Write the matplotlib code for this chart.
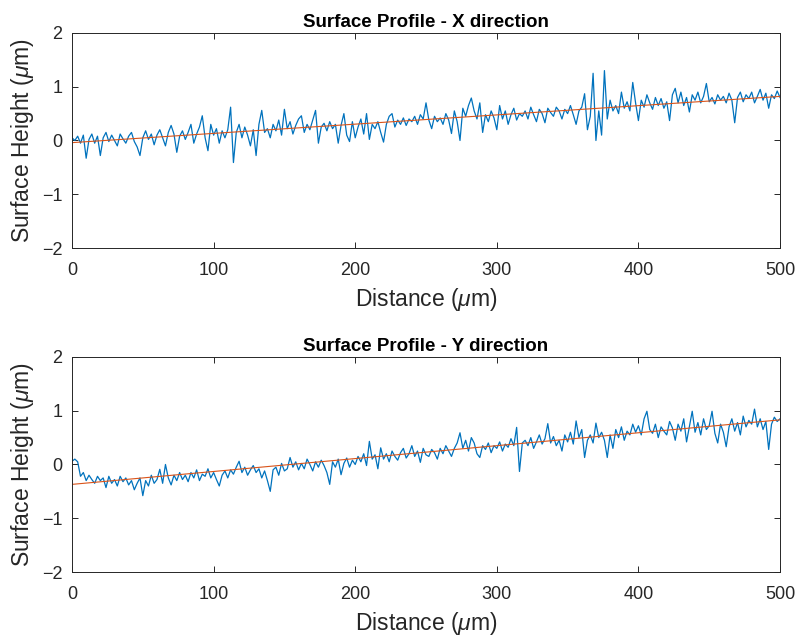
import numpy as np
import matplotlib.pyplot as plt

plt.rcParams['font.family'] = ['Liberation Sans', 'DejaVu Sans']
plt.rcParams['mathtext.fontset'] = 'custom'
plt.rcParams['mathtext.rm'] = 'Liberation Sans'
plt.rcParams['mathtext.it'] = 'Liberation Sans:italic'

# distance in um, one sample every 2 um
distance = np.arange(0, 501, 2)

height_x = [
    0.05, 0.00, 0.08, -0.05, 0.10, -0.33, 0.02, 0.12, -0.05, 0.08,
    -0.28, 0.05, 0.15, -0.02, 0.10, 0.00, -0.10, 0.12, 0.03, -0.05,
    0.08, 0.15, -0.02, -0.12, -0.28, 0.05, 0.18, 0.02, 0.12, -0.08,
    0.10, 0.20, 0.05, -0.10, 0.15, 0.28, 0.12, -0.22, 0.08, 0.18,
    0.02, 0.15, 0.30, -0.05, 0.12, 0.25, 0.46, 0.05, -0.19, 0.30,
    0.10, 0.22, -0.05, 0.18, 0.05, 0.20, 0.62, -0.41, 0.15, 0.30,
    0.05, 0.25, 0.10, -0.10, 0.20, -0.28, 0.30, 0.56, 0.15, 0.22,
    0.05, 0.30, 0.18, 0.38, 0.10, 0.58, 0.22, 0.35, 0.12, 0.28,
    0.40, 0.46, 0.15, 0.30, 0.20, 0.38, 0.56, -0.05, 0.25, 0.32,
    0.18, 0.35, 0.22, 0.30, -0.05, 0.28, 0.50, 0.10, -0.02, 0.35,
    0.05, 0.25, 0.40, 0.12, 0.50, 0.02, 0.30, 0.22, 0.35, 0.15,
    -0.03, 0.30, 0.45, 0.50, 0.25, 0.38, 0.30, 0.42, 0.28, 0.40,
    0.35, 0.45, 0.30, 0.48, 0.40, 0.70, 0.38, 0.22, 0.45, 0.35,
    0.42, 0.30, 0.50, 0.38, 0.13, 0.55, 0.35, 0.00, 0.60, 0.45,
    0.65, 0.79, 0.55, 0.40, 0.70, 0.15, 0.48, 0.35, 0.55, 0.42,
    0.20, 0.65, 0.40, 0.55, 0.30, 0.48, 0.60, 0.38, 0.50, 0.45,
    0.55, 0.40, 0.62, 0.48, 0.35, 0.58, 0.50, 0.33, 0.60, 0.52,
    0.45, 0.62, 0.55, 0.40, 0.58, 0.50, 0.65, 0.48, 0.30, 0.55,
    0.62, 0.87, 0.20, 0.45, 1.25, 0.00, 0.55, 0.10, 1.30, 0.40,
    0.75, 0.55, 0.65, 0.50, 0.90, 0.60, 0.72, 0.55, 1.08, 0.70,
    0.37, 0.75, 0.62, 0.85, 0.70, 0.58, 0.80, 0.65, 0.78, 0.60,
    0.72, 0.37, 0.85, 0.97, 0.70, 0.90, 0.65, 0.80, 0.53, 0.85,
    0.75, 0.90, 0.70, 0.82, 1.06, 0.72, 0.80, 0.68, 0.85, 0.75,
    0.82, 0.70, 0.88, 0.75, 0.33, 0.80, 0.90, 0.72, 0.85, 0.78,
    0.90, 0.70, 0.82, 0.95, 0.75, 0.88, 0.60, 0.85, 0.78, 0.92, 0.80,
]

height_y = [
    0.06, 0.10, 0.05, -0.22, -0.15, -0.30, -0.20, -0.28, -0.35, -0.22,
    -0.30, -0.25, -0.43, -0.22, -0.35, -0.28, -0.40, -0.22, -0.32, -0.25,
    -0.38, -0.30, -0.47, -0.35, -0.25, -0.58, -0.30, -0.40, -0.20, -0.35,
    -0.28, -0.09, -0.35, 0.00, -0.25, -0.38, -0.20, -0.30, -0.15, -0.28,
    -0.20, -0.32, -0.15, -0.25, -0.10, -0.30, -0.18, -0.22, -0.08, -0.25,
    -0.15, -0.28, -0.40, -0.20, -0.12, -0.25, -0.10, -0.18, -0.05, 0.06,
    -0.15, -0.05, -0.20, -0.10, -0.02, -0.15, -0.08, -0.25, -0.12, -0.30,
    -0.50, -0.10, -0.05, -0.20, 0.02, -0.12, -0.08, 0.13, -0.05, 0.05,
    -0.10, 0.02, -0.08, 0.10, 0.00, -0.12, 0.05, -0.05, 0.08, -0.02,
    -0.15, -0.37, 0.05, -0.05, 0.10, -0.19, 0.02, 0.12, -0.05, 0.08,
    0.00, 0.15, 0.05, 0.20, -0.02, 0.43, 0.10, 0.18, -0.08, 0.31,
    0.10, 0.20, 0.05, 0.25, 0.15, 0.08, 0.22, 0.30, 0.12, 0.20,
    0.35, 0.15, 0.25, 0.04, 0.30, 0.18, 0.15, 0.28, 0.22, 0.10,
    0.30, 0.20, 0.35, 0.25, 0.15, 0.30, 0.40, 0.59, 0.30, 0.45,
    0.25, 0.50, 0.40, 0.20, 0.13, 0.35, 0.28, 0.40, 0.22, 0.35,
    0.30, 0.42, 0.25, 0.38, 0.32, 0.48, 0.35, 0.69, -0.13, 0.40,
    0.45, 0.35, 0.50, 0.30, 0.42, 0.55, 0.38, 0.48, 0.76, 0.40,
    0.52, 0.35, 0.45, 0.25, 0.55, 0.42, 0.60, 0.38, 0.81, 0.50,
    0.65, 0.13, 0.45, 0.55, 0.40, 0.77, 0.50, 0.60, 0.45, 0.13,
    0.55, 0.30, 0.65, 0.50, 0.70, 0.45, 0.62, 0.55, 0.75, 0.60,
    0.72, 0.55, 0.85, 0.99, 0.65, 0.58, 0.75, 0.50, 0.70, 0.62,
    0.55, 0.80, 0.68, 0.45, 0.75, 0.62, 0.85, 0.42, 0.70, 0.99,
    0.60, 0.78, 0.55, 0.85, 0.65, 0.72, 0.99, 0.58, 0.40, 0.75,
    0.60, 0.33, 0.70, 0.85, 0.62, 0.78, 0.55, 0.90, 0.70, 0.82,
    0.75, 1.03, 0.70, 0.85, 0.65, 0.80, 0.28, 0.75, 0.88, 0.80, 0.85,
]

# linear fit lines (end points)
fit_dist = [0, 500]
fit_x = [-0.04, 0.82]
fit_y = [-0.37, 0.83]

titles = ['Surface Profile - X direction', 'Surface Profile - Y direction']

blue = '#0072BD'
red = '#D95319'
axcol = '#262626'

fig = plt.figure(figsize=(8.01, 6.44), dpi=100)
ax1 = fig.add_axes([0.0899, 0.6149, 0.8839, 0.3339])
ax2 = fig.add_axes([0.0899, 0.1118, 0.8839, 0.3339])

for ax, h, fit, title in zip([ax1, ax2], [height_x, height_y], [fit_x, fit_y], titles):
    ax.plot(distance, h, color=blue, lw=0.9)
    ax.plot(fit_dist, fit, color=red, lw=0.8)
    ax.set_xlim(0, 500)
    ax.set_ylim(-2, 2)
    ax.set_xticks([0, 100, 200, 300, 400, 500])
    ax.set_yticks([-2, -1, 0, 1, 2])
    ax.tick_params(direction='in', top=True, right=True, length=4,
                   labelsize=13, colors=axcol, width=0.7, pad=7)
    ax.tick_params(axis='x', pad=10)
    for s in ax.spines.values():
        s.set_color(axcol)
        s.set_linewidth(0.7)
    ax.set_xlabel(r'Distance ($\mu$m)', fontsize=16.5, color=axcol, labelpad=5)
    ax.set_ylabel(r'Surface Height ($\mu$m)', fontsize=16.5, color=axcol, labelpad=4)
    ax.set_title(title, fontsize=13.5, fontweight='bold', color='black', pad=4)

fig.savefig('out.png', dpi=100)
